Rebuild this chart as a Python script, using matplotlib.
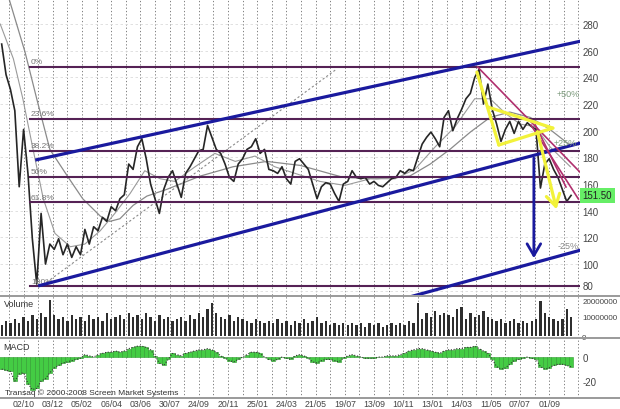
import numpy as np
import matplotlib
matplotlib.use("Agg")
import matplotlib.pyplot as plt
from matplotlib.lines import Line2D

# ---------------------------------------------------------------------------
# Data (x in trading-day bars, one sample every STEP bars)
# ---------------------------------------------------------------------------
STEP = 6

close = [
    265, 242, 231, 215, 158, 201, 168, 119, 85, 138,
    100, 115, 111, 119, 107, 115, 105, 113, 107, 126,
    115, 128, 125, 135, 132, 143, 140, 149, 152, 175,
    171, 188, 194, 179, 160, 149, 138, 156, 165, 170,
    160, 150, 168, 173, 179, 185, 186, 204, 195, 186,
    183, 175, 165, 162, 175, 179, 186, 188, 194, 183,
    186, 171, 170, 168, 173, 164, 160, 177, 179, 175,
    171, 160, 149, 158, 161, 160, 153, 147, 160, 162,
    170, 165, 164, 165, 160, 162, 159, 158, 161, 164,
    165, 170, 168, 171, 170, 180, 190, 195, 199, 194,
    188, 210, 215, 200, 209, 216, 224, 228, 240, 246,
    220, 235, 216, 205, 192, 201, 207, 198, 207, 201,
    206, 203, 201, 157, 175, 179, 171, 165, 156, 147,
    151.5,
]

volume_m = [
    6, 8, 7, 9, 7, 10, 8, 11, 9, 12,
    10, 19, 11, 9, 10, 8, 11, 9, 10, 8,
    11, 9, 10, 8, 12, 9, 10, 11, 9, 12,
    10, 11, 9, 12, 10, 8, 11, 9, 10, 8,
    9, 10, 8, 11, 9, 12, 10, 14, 17, 12,
    10, 9, 11, 8, 10, 9, 8, 7, 9, 8,
    7, 8, 7, 9, 7, 8, 6, 8, 7, 9,
    7, 8, 10, 7, 8, 6, 7, 6, 7, 6,
    7, 6, 7, 5, 7, 6, 7, 5, 6, 7,
    6, 7, 6, 8, 7, 17, 9, 12, 10, 13,
    11, 12, 11, 10, 14, 15, 9, 12, 10, 11,
    13, 10, 9, 8, 9, 7, 8, 9, 7, 8,
    7, 8, 9, 18, 12, 10, 9, 8, 9, 14,
    10,
]

macd = [
    -10, -11, -12, -20, -14, -13, -22, -27, -26, -20,
    -18, -13, -9, -7, -5, -4, -3, -2, -1, 2,
    1, 0, 2, 3, 4, 4, 5, 4, 5, 7,
    8, 9, 9, 8, 6, 1, -5, -7, -2, 3,
    2, 1, 3, 4, 5, 6, 6, 7, 6, 4,
    1, -1, -3, -4, -2, 0, 2, 4, 4, 3,
    0, -2, -3, -2, 0, -1, -2, 1, 2, 1,
    -1, -4, -5, -3, -2, -2, -3, -4, -1, 1,
    2, 1, 0, -1, -1, -1, 0, 0, 1, 1,
    1, 2, 3, 5, 6, 7, 7, 6, 5, 4,
    3, 5, 6, 6, 7, 7, 8, 8, 9, 7,
    5, 3, -2, -8, -10, -9, -6, -3, -2, -1,
    0, -1, -2, -8, -10, -9, -7, -6, -6, -7,
    -8,
]

ma_long_x = [4, 32, 48, 66, 90, 111, 135, 148, 162, 180, 199, 226, 272, 317,
             363, 409, 468, 514, 559, 587, 614, 642, 669, 696, 724, 751, 779]
ma_long = [310, 259, 224, 186, 166, 149, 136, 132, 134, 144, 151, 156, 166, 173,
           177, 174, 165, 164, 166, 175, 186, 199, 210, 214, 210, 201, 189]

ma_short_x = [-2, 16, 29, 43, 57, 73, 94, 114, 135, 155, 176, 196, 217, 237,
              265, 292, 320, 347, 374, 402, 436, 470, 505, 539, 566, 594,
              621, 648, 669, 690, 710, 731, 751, 779]
ma_short = [280, 254, 224, 186, 149, 123, 113, 115, 125, 138, 153, 170, 164, 162,
            173, 183, 177, 181, 173, 168, 162, 159, 164, 164, 171, 188,
            203, 224, 224, 213, 205, 203, 188, 173]

fib_levels = [247.8, 209.0, 185.0, 165.5, 146.2, 83.3]
fib_labels = ["0%", "23.6%", "38.2%", "50%", "61.8%", "100%"]

date_labels = ["02/10", "03/12", "05/02", "06/04", "03/06", "30/07", "24/09",
               "20/11", "25/01", "24/03", "21/05", "19/07", "13/09", "10/11",
               "13/01", "14/03", "11/05", "07/07", "01/09"]

# drawn lines: ((x0, p0), (x1, p1))
blue_lines = [((46, 178.0), (800, 268.0)),
              ((50, 83.6), (800, 191.8)),
              ((560, 75.5), (800, 111.5))]
pink_lines = [((652, 247.8), (796, 166.8)),
              ((725, 204.3), (790, 148.8)),
              ((731, 204.3), (773, 157.8))]
yellow_lines = [((651, 244.0), (681, 189.3)),
                ((681, 189.3), (755, 202.0)),
                ((666, 217.8), (755, 202.0))]
yellow_arrow = ((733, 201.3), (761, 139.0))
blue_arrow = ((729, 181.5), (729, 102.3))
dotted_line = ((62, 86.5), (459, 246.3))
last_price = 151.50

# ---------------------------------------------------------------------------
# Figure
# ---------------------------------------------------------------------------
plt.rcParams["font.family"] = ["Liberation Sans", "DejaVu Sans"]

W, H = 620, 410
fig = plt.figure(figsize=(W / 100, H / 100), dpi=100)
fig.patch.set_facecolor("white")

right = 580 / W
ax_p = fig.add_axes([0, (H - 296) / H, right, 296 / H])
ax_v = fig.add_axes([0, (H - 339) / H, right, 42 / H])
ax_m = fig.add_axes([0, (H - 399) / H, right, 60 / H])

XMIN, XMAX = -2.3, 792.2
FIB_C = "#552255"
BLUE = "#1a1a9e"
PINK = "#b0306e"
YELLOW = "#f2f23a"
GRID_C = "#6a6a6a"
TXT_C = "#444444"

for ax in (ax_p, ax_v, ax_m):
    ax.set_xlim(XMIN, XMAX)
    for s in ax.spines.values():
        s.set_visible(False)
    ax.yaxis.tick_right()
    ax.tick_params(axis="y", length=0, labelsize=7, labelcolor=TXT_C, pad=2)
    ax.tick_params(axis="x", length=0)
    for gb in range(10, 800, 20):
        ax.axvline(gb, color=GRID_C, lw=0.6, ls=(0, (1.5, 2.5)), zorder=0)

# --- price panel ---
ax_p.set_ylim(76.8, 298.8)
ax_p.set_yticks(range(80, 281, 20))
ax_p.set_xticks([])
ax_p.get_yticklabels()[0].set_va("bottom")
for lv in range(80, 281, 20):
    ax_p.axhline(lv, color="#dcdcdc", lw=0.6, ls=(0, (3, 3)), zorder=0)

x_price = np.arange(len(close)) * STEP
ax_p.plot(ma_long_x, ma_long, color="#8a8a8a", lw=0.9, zorder=2)
ax_p.plot(ma_short_x, ma_short, color="#9a9a9a", lw=0.8, zorder=2)
ax_p.plot(x_price, close, color="#262626", lw=1.2, zorder=3)

(dx0, dy0), (dx1, dy1) = dotted_line
ax_p.plot([dx0, dx1], [dy0, dy1], color="#8a8a8a", lw=0.8, ls=(0, (2, 2)), zorder=2)

for lv, lab in zip(fib_levels, fib_labels):
    ax_p.plot([38.8, XMAX], [lv, lv], color=FIB_C, lw=1.5, zorder=4)
    ax_p.text(40, lv + 1.2, lab, fontsize=6, color="#777777", va="bottom", ha="left", zorder=5)

for (x0, y0), (x1, y1) in blue_lines:
    ax_p.plot([x0, x1], [y0, y1], color=BLUE, lw=2.3, zorder=6, solid_capstyle="butt")
for (x0, y0), (x1, y1) in pink_lines:
    ax_p.plot([x0, x1], [y0, y1], color=PINK, lw=1.2, zorder=6)
for (x0, y0), (x1, y1) in yellow_lines:
    ax_p.plot([x0, x1], [y0, y1], color=YELLOW, lw=2.3, zorder=7, solid_capstyle="round")

(ax0, ay0), (ax1, ay1) = yellow_arrow
ax_p.annotate("", xy=(ax1, ay1), xytext=(ax0, ay0),
              arrowprops=dict(arrowstyle="->,head_length=0.6,head_width=0.35",
                              color=YELLOW, lw=2.3, mutation_scale=14), zorder=7)
(bx0, by0), (bx1, by1) = blue_arrow
ax_p.annotate("", xy=(bx1, by1), xytext=(bx0, by0),
              arrowprops=dict(arrowstyle="->,head_length=0.6,head_width=0.35",
                              color=BLUE, lw=2.0, mutation_scale=14), zorder=7)

ax_p.text(776, 227.6, "+50%", fontsize=6.5, color="#7c9a7c", ha="center", va="center", zorder=8)
ax_p.text(772, 191.5, "+25%", fontsize=6.5, color="#7c9a7c", ha="center", va="center", zorder=8)
ax_p.text(776, 113.6, "-25%", fontsize=6.5, color="#888888", ha="center", va="center", zorder=8)

ax_p.annotate(f"{last_price:.2f}", xy=(1.0, last_price), xycoords=("axes fraction", "data"),
              xytext=(2, 0), textcoords="offset points", fontsize=7, color="#222222",
              ha="left", va="center", annotation_clip=False,
              bbox=dict(boxstyle="square,pad=0.25", fc="#66ee66", ec="none"))

# --- volume panel ---
x_vol = np.arange(len(volume_m)) * STEP
ax_v.bar(x_vol, np.array(volume_m) * 1e6, width=3.2, color="#2e2e2e", zorder=3)
ax_v.set_ylim(-0.8e6, 20.8e6)
ax_v.set_yticks([0, 10000000, 20000000])
ax_v.set_yticklabels(["0", "10000000", "20000000"])
ax_v.tick_params(axis="y", labelsize=5.8, pad=1.5)
ax_v.get_yticklabels()[-1].set_va("top")
ax_v.set_xticks([])
ax_v.text(0.006, 0.93, "Volume", transform=ax_v.transAxes, fontsize=6.5,
          color="#333333", va="top", ha="left")

# --- MACD panel ---
x_macd = np.arange(len(macd)) * STEP
ax_m.bar(x_macd, macd, width=STEP, color="#44cc44", edgecolor="#2f9a2f",
         linewidth=0.4, zorder=3)
ax_m.plot(x_macd, macd, color="#333333", lw=0.8, ls=(0, (1, 1.5)), zorder=4)
ax_m.set_ylim(-34, 15.8)
ax_m.set_yticks([0, -20])
ax_m.set_yticklabels(["0", "-20"])
ax_m.text(0.006, 0.93, "MACD", transform=ax_m.transAxes, fontsize=6.5,
          color="#333333", va="top", ha="left")
ax_m.text(0.009, 0.04, "Transaq \u00a9 2000-2008 Screen Market Systems",
          transform=ax_m.transAxes, fontsize=6, color="#333333", va="bottom", ha="left")
ax_m.set_xticks(range(30, 751, 40))
ax_m.set_xticklabels(date_labels, fontsize=6.3, color=TXT_C)
ax_m.tick_params(axis="x", pad=1)

# panel separators across the full width
for ypx in (296.5, 339, 399):
    fig.add_artist(Line2D([0, 1], [1 - ypx / H, 1 - ypx / H], color="#9a9a9a", lw=1.4))

fig.savefig("out.png", dpi=100)
